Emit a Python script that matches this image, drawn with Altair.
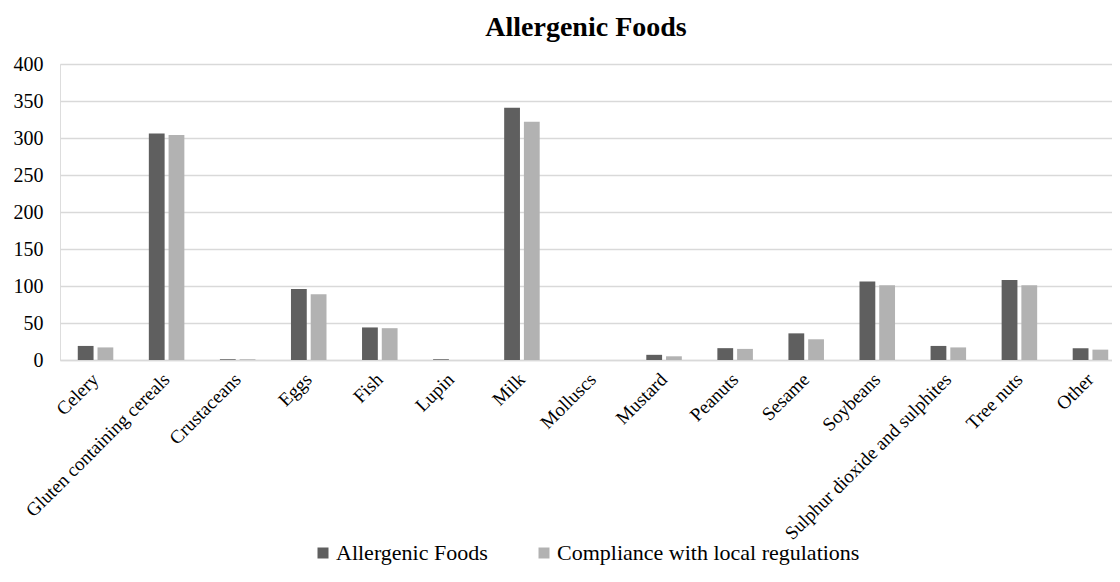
import altair as alt
import pandas as pd

categories = ["Celery", "Gluten containing cereals", "Crustaceans", "Eggs", "Fish",
              "Lupin", "Milk", "Molluscs", "Mustard", "Peanuts", "Sesame", "Soybeans",
              "Sulphur dioxide and sulphites", "Tree nuts", "Other"]
allergenic = [19, 306, 1, 96, 44, 1, 341, 0, 7, 16, 36, 106, 19, 108, 16]
compliance = [17, 304, 1, 89, 43, 0, 322, 0, 5, 15, 28, 101, 17, 101, 14]
series = ["Allergenic Foods", "Compliance with local regulations"]
colors = ["#5f5f5f", "#b2b2b2"]

rows = []
for c, a, b in zip(categories, allergenic, compliance):
    rows.append({"category": c, "series": series[0], "value": a})
    rows.append({"category": c, "series": series[1], "value": b})
df = pd.DataFrame(rows)

FONT = "Liberation Serif"

chart = alt.Chart(df).mark_bar().encode(
    x=alt.X("category:N", sort=categories, title=None,
            scale=alt.Scale(paddingInner=0.5, paddingOuter=0.25, range=[0, 1066]),
            axis=alt.Axis(labelAngle=-45, labelFont=FONT, labelFontSize=19,
                          labelColor="#000000", ticks=False, domain=True,
                          domainColor="#d9d9d9", domainWidth=1.5, labelPadding=16,
                          labelAlign="right", labelBaseline="middle", labelLimit=400)),
    xOffset=alt.XOffset("series:N", sort=series,
                        scale=alt.Scale(paddingInner=0.2)),
    y=alt.Y("value:Q", title=None,
            scale=alt.Scale(domain=[0, 400]),
            axis=alt.Axis(values=[0, 50, 100, 150, 200, 250, 300, 350, 400],
                          labelFont=FONT, labelFontSize=20, labelColor="#000000",
                          ticks=False, domain=False, gridColor="#d9d9d9",
                          gridWidth=1.5, labelPadding=17)),
    color=alt.Color("series:N", sort=series, title=None,
                    scale=alt.Scale(domain=series, range=colors),
                    legend=alt.Legend(orient="none", direction="horizontal",
                                      legendX=252, legendY=478,
                                      symbolType="square", symbolSize=121,
                                      symbolStrokeWidth=0,
                                      labelFont=FONT, labelFontSize=22,
                                      labelColor="#000000", columnPadding=45,
                                      labelOffset=2, labelLimit=500)),
).properties(
    width=1052,
    height=296,
    title=alt.TitleParams("Allergenic Foods", font=FONT, fontSize=28,
                          fontWeight="bold", color="#000000", anchor="middle",
                          offset=12),
    autosize=alt.AutoSizeParams(type="none"),
    padding={"left": 52, "top": 56, "right": 0, "bottom": 214},
).configure_view(stroke=None).configure_legend(
    labelFont=FONT, labelFontSize=22, labelColor="#000000"
).configure(font=FONT)

chart.save("out.html", embed_options={"renderer": "svg", "actions": False})
